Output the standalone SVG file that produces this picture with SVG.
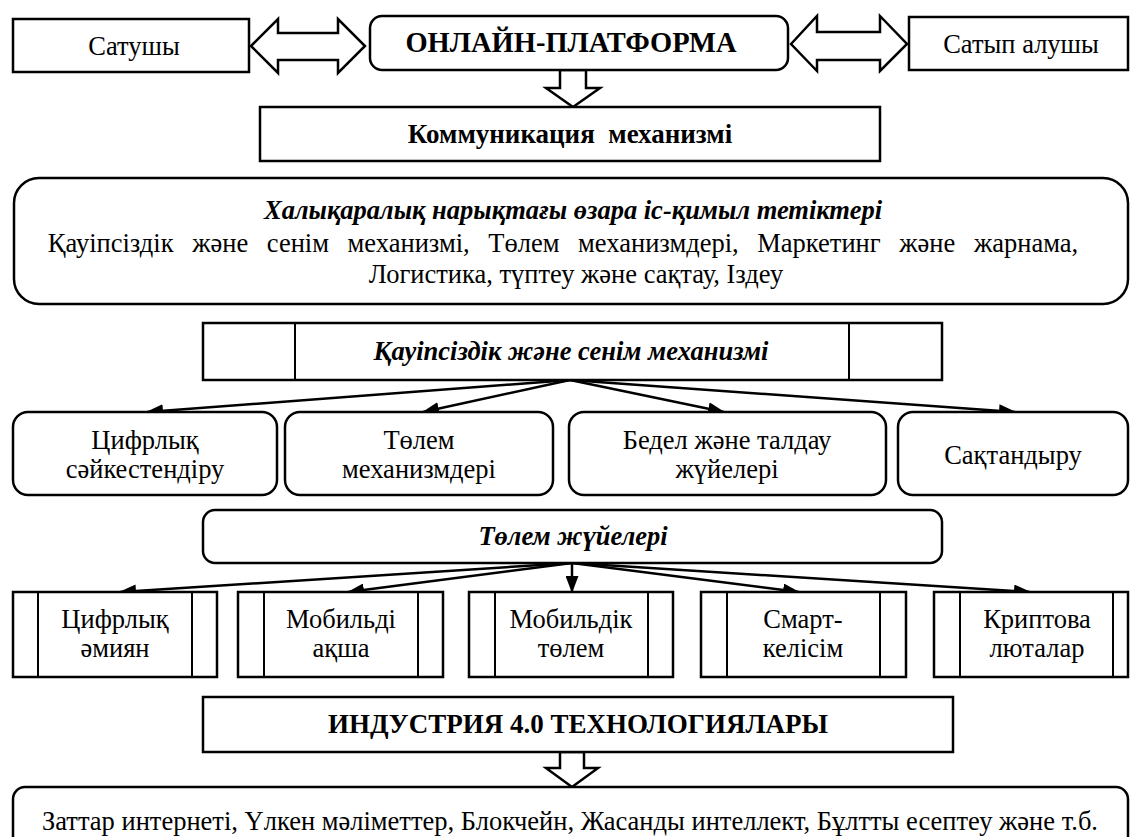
<svg xmlns="http://www.w3.org/2000/svg" width="1130" height="837" viewBox="0 0 1130 837">
<style>
.b{fill:#fff;stroke:#000;stroke-width:2.5}
.d{fill:none;stroke:#000;stroke-width:2}
.t{font-family:"Liberation Serif","Times New Roman",serif;font-size:26.5px;fill:#000;text-anchor:middle}
.bo{font-weight:bold;font-size:27px}
.bi{font-weight:bold;font-style:italic}
.c{fill:none;stroke:#000;stroke-width:2.5}
</style>
<defs>
<marker id="ah" markerUnits="userSpaceOnUse" markerWidth="17" markerHeight="13" refX="16" refY="6.5" orient="auto">
<path d="M0,0 L17,6.5 L0,13 z" fill="#000"/>
</marker>
</defs>
<rect width="1130" height="837" fill="#fff"/>

<g id="connectors">
<polygon class="b" points="251,46 278,19 278,33 338,33 338,19 365,46 338,73 338,60 278,60 278,73"/>
<polygon class="b" points="791,44 817,16 817,32 880,32 880,16 907,44 880,71 880,60 817,60 817,71"/>
<polygon class="b" points="560,70 586,70 586,88 600,88 573,107 546,88 560,88"/>
<polygon class="b" points="560,752 584,752 584,768 598,768 572,787 546,768 560,768"/>
<line class="c" x1="570" y1="380" x2="147" y2="412" marker-end="url(#ah)"/>
<line class="c" x1="570" y1="380" x2="423" y2="412" marker-end="url(#ah)"/>
<line class="c" x1="570" y1="380" x2="724" y2="412" marker-end="url(#ah)"/>
<line class="c" x1="570" y1="380" x2="1015" y2="412" marker-end="url(#ah)"/>
<line class="c" x1="572" y1="563" x2="120" y2="592" marker-end="url(#ah)"/>
<line class="c" x1="572" y1="563" x2="348" y2="592" marker-end="url(#ah)"/>
<line class="c" x1="572" y1="563" x2="572" y2="592" marker-end="url(#ah)"/>
<line class="c" x1="572" y1="563" x2="799" y2="592" marker-end="url(#ah)"/>
<line class="c" x1="572" y1="563" x2="1030" y2="592" marker-end="url(#ah)"/>
</g>

<g id="seller"><rect class="b" x="13" y="19" width="236" height="53"/><text class="t" x="134" y="55">Сатушы</text></g>
<g id="platform"><rect class="b" x="370" y="16" width="418" height="54" rx="12"/><text class="t bo" x="571" y="52" style="font-size:28.5px">ОНЛАЙН-ПЛАТФОРМА</text></g>
<g id="buyer"><rect class="b" x="909" y="17" width="219" height="53"/><text class="t" x="1021" y="53">Сатып алушы</text></g>
<g id="communication"><rect class="b" x="260" y="107" width="620" height="54"/><text class="t bo" x="570" y="143" xml:space="preserve">Коммуникация  механизмі</text></g>
<g id="interaction"><rect class="b" x="14" y="178" width="1114" height="126" rx="25"/>
<text class="t bi" x="573" y="219">Халықаралық нарықтағы өзара іс-қимыл тетіктері</text>
<text class="t" x="563" y="252" style="word-spacing:12px">Қауіпсіздік және сенім механизмі, Төлем механизмдері, Маркетинг және жарнама,</text>
<text class="t" x="576" y="283">Логистика, түптеу және сақтау, Іздеу</text></g>
<g id="security"><rect class="b" x="203" y="323" width="739" height="57"/><line class="d" x1="295" y1="323" x2="295" y2="380"/><line class="d" x1="849" y1="323" x2="849" y2="380"/><text class="t bi" x="571" y="360">Қауіпсіздік және сенім механизмі</text></g>
<g id="digital-id"><rect class="b" x="13" y="412" width="264" height="83" rx="15"/><text class="t" x="145" y="449">Цифрлық</text><text class="t" x="145" y="478">сәйкестендіру</text></g>
<g id="payment-mech"><rect class="b" x="285" y="412" width="268" height="83" rx="15"/><text class="t" x="419" y="449">Төлем</text><text class="t" x="419" y="478">механизмдері</text></g>
<g id="reputation"><rect class="b" x="569" y="412" width="317" height="83" rx="15"/><text class="t" x="727" y="449">Бедел және талдау</text><text class="t" x="727" y="478">жүйелері</text></g>
<g id="insurance"><rect class="b" x="898" y="412" width="230" height="83" rx="15"/><text class="t" x="1013" y="464">Сақтандыру</text></g>
<g id="payment-systems"><rect class="b" x="203" y="510" width="739" height="53" rx="12"/><text class="t bi" x="573" y="545">Төлем жүйелері</text></g>
<g id="wallet"><rect class="b" x="13" y="592" width="204" height="85"/><line class="d" x1="38" y1="592" x2="38" y2="677"/><line class="d" x1="192" y1="592" x2="192" y2="677"/><text class="t" x="115" y="628">Цифрлық</text><text class="t" x="115" y="657">әмиян</text></g>
<g id="mobile-money"><rect class="b" x="238" y="592" width="205" height="85"/><line class="d" x1="264" y1="592" x2="264" y2="677"/><line class="d" x1="418" y1="592" x2="418" y2="677"/><text class="t" x="341" y="628">Мобильді</text><text class="t" x="341" y="657">ақша</text></g>
<g id="mobile-payment"><rect class="b" x="469" y="592" width="204" height="85"/><line class="d" x1="495" y1="592" x2="495" y2="677"/><line class="d" x1="648" y1="592" x2="648" y2="677"/><text class="t" x="571" y="628">Мобильдік</text><text class="t" x="571" y="657">төлем</text></g>
<g id="smart-contract"><rect class="b" x="701" y="592" width="205" height="85"/><line class="d" x1="727" y1="592" x2="727" y2="677"/><line class="d" x1="880" y1="592" x2="880" y2="677"/><text class="t" x="803" y="628">Смарт-</text><text class="t" x="803" y="657">келісім</text></g>
<g id="crypto"><rect class="b" x="934" y="592" width="194" height="85"/><line class="d" x1="960" y1="592" x2="960" y2="677"/><line class="d" x1="1113" y1="592" x2="1113" y2="677"/><text class="t" x="1037" y="628">Криптова</text><text class="t" x="1037" y="657">люталар</text></g>
<g id="industry"><rect class="b" x="203" y="697" width="750" height="55"/><text class="t bo" x="578" y="733">ИНДУСТРИЯ 4.0 ТЕХНОЛОГИЯЛАРЫ</text></g>
<g id="technologies"><rect class="b" x="13" y="787" width="1115" height="70" rx="12"/><text class="t" x="570" y="830">Заттар интернеті, Үлкен мәліметтер, Блокчейн, Жасанды интеллект, Бұлтты есептеу және т.б.</text></g>
</svg>
